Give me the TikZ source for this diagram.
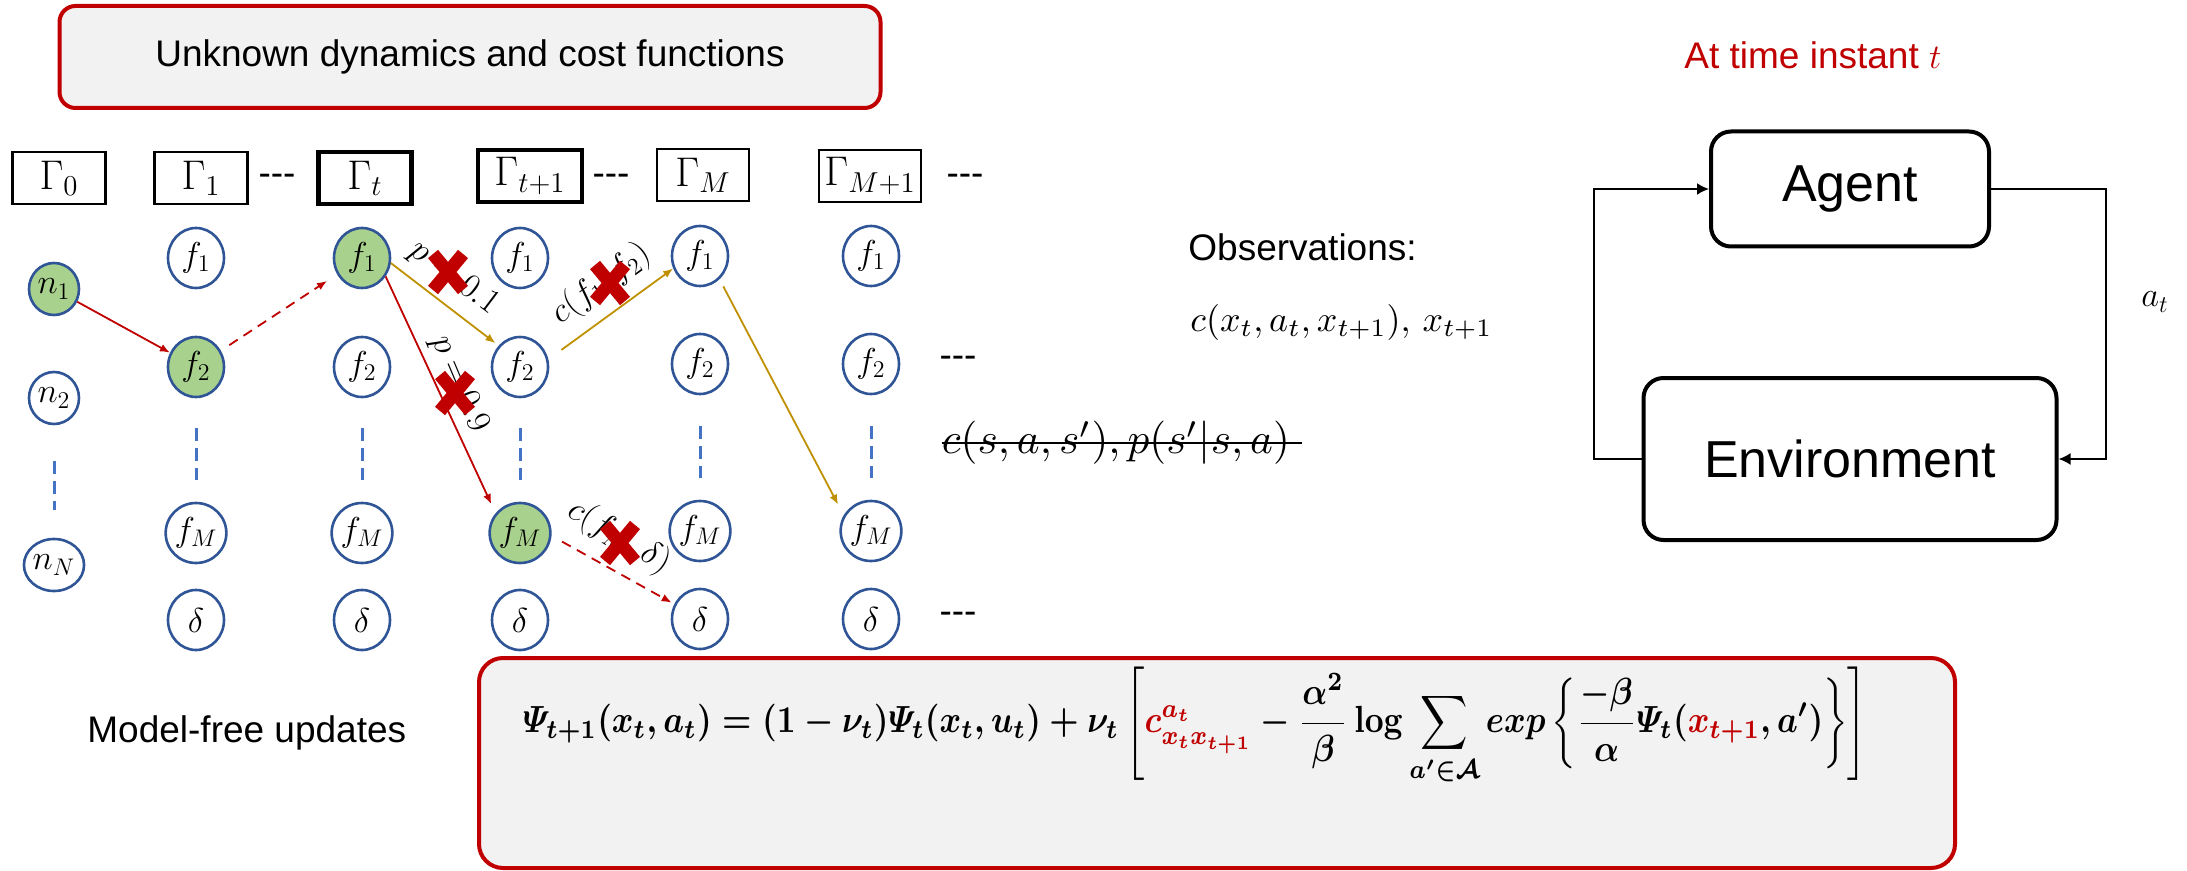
\documentclass[tikz,border=0pt]{standalone}
\usepackage[no-math]{fontspec}
\setmainfont{Liberation Sans}
\usepackage{amsmath,amssymb}
\usepackage{graphicx}
\usetikzlibrary{arrows.meta,calc,shapes.geometric}
\definecolor{cred}{HTML}{C00000}
\definecolor{cgold}{HTML}{BF9000}
\definecolor{cblue}{HTML}{2F5597}
\definecolor{cdash}{HTML}{4472C4}
\definecolor{cgreen}{HTML}{A9D18E}
\definecolor{cgray}{HTML}{F2F2F2}
\newcommand{\RedCross}[1]{\draw[xmk] ($(#1)+(-15,-18)$) -- ($(#1)+(15,18)$) ($(#1)+(15,-18)$) -- ($(#1)+(-15,18)$);}
\newcommand{\QFormula}{$\displaystyle \varPsi_{t+1}(x_t,a_t)=(1-\nu_t)\varPsi_t(x_t,u_t)+\nu_t\left[\textcolor{cred}{c^{a_t}_{x_t x_{t+1}}}-\frac{\alpha^2}{\beta}\log\sum_{a'\in\mathcal{A}} exp\left\{\frac{-\beta}{\alpha}\varPsi_t(\textcolor{cred}{x_{t+1}},a')\right\}\right]$}
\begin{document}
\begin{tikzpicture}[x=0.5pt,y=-0.5pt,
  topbox/.style={draw=cred, line width=2pt, fill=cgray, rounded corners=8pt, minimum width=410.5pt, minimum height=51pt, inner sep=0pt, font=\fontsize{18.5}{22}\selectfont},
  eqbox/.style={draw=cred, line width=2pt, fill=cgray, rounded corners=12pt, minimum width=738pt, minimum height=105pt, inner sep=0pt},
  gbox/.style={draw, line width=1.2pt, minimum width=46.5pt, minimum height=26pt, inner sep=0pt, font=\fontsize{21}{24}\selectfont},
  gboxb/.style={gbox, line width=2.3pt},
  fnode/.style={ellipse, draw=cblue, line width=1.3pt, fill=white, minimum width=28pt, minimum height=30pt, inner sep=0pt, font=\fontsize{17}{20}\selectfont},
  nnode/.style={fnode, minimum width=25pt, minimum height=26pt},
  hit/.style={fill=cgreen},
  vdots/.style={draw=cdash, line width=1.5pt, dash pattern=on 6.5pt off 3.5pt},
  tripledash/.style={inner sep=0pt, font=\fontsize{18.5}{22}\selectfont},
  redarr/.style={draw=cred, line width=0.9pt, -{Latex[length=5pt,width=4pt]}},
  goldarr/.style={draw=cgold, line width=0.9pt, -{Latex[length=5pt,width=4pt]}},
  dashedarr/.style={dash pattern=on 5pt off 3.5pt},
  lab/.style={inner sep=0pt, font=\fontsize{16.5}{18}\selectfont},
  xmk/.style={draw=cred, line width=6.5pt},
  sans/.style={inner sep=0pt, font=\fontsize{18.5}{22}\selectfont},
  bigbox/.style={draw, line width=2pt, rounded corners=10pt, inner sep=0pt, font=\fontsize{26}{30}\selectfont},
  loopline/.style={draw, line width=1pt, -{Latex[length=6pt,width=6pt]}}
]
\useasboundingbox (0,0) rectangle (2187,871);

% top box
\node[topbox] (unk) at (470,57) {Unknown dynamics and cost functions};

% Gamma boxes
\node[gbox] (g0) at (59,178) {$\Gamma_0$};
\node[gbox] (g1) at (201,178) {$\Gamma_1$};
\node[gboxb] (gt) at (365,178) {$\Gamma_t$};
\node[gboxb, minimum width=52pt] (gtp) at (530,176) {$\Gamma_{t+1}$};
\node[gbox, minimum width=46pt] (gM) at (703,175) {$\Gamma_M$};
\node[gbox, minimum width=51pt] (gMp) at (870,176) {$\Gamma_{M+1}$};

% dashes
\node[tripledash] (h1) at (277,180) {{-}{-}{-}};
\node[tripledash] (h2) at (611,180) {{-}{-}{-}};
\node[tripledash] (h3) at (965,180) {{-}{-}{-}};
\node[tripledash] (h4) at (958,362) {{-}{-}{-}};
\node[tripledash] (h5) at (958,618) {{-}{-}{-}};

% n column
\node[nnode, hit] (n1) at (54,289) {$n_1$};
\node[nnode] (n2) at (54,398) {$n_2$};
\node[nnode] (nN) at (54,565) {$n_N$};
\draw[vdots] ($(n2)!0.38!(nN)$) -- ($(n2)!0.67!(nN)$);

% column 1
\node[fnode] (a1) at (196,258) {$f_1$};
\node[fnode, hit] (a2) at (196,367) {$f_2$};
\node[fnode] (aM) at (196,533) {$f_M$};
\node[fnode] (ad) at (196,620) {$\delta$};
% column t
\node[fnode, hit] (b1) at (362,258) {$f_1$};
\node[fnode] (b2) at (362,367) {$f_2$};
\node[fnode] (bM) at (362,533) {$f_M$};
\node[fnode] (bd) at (362,620) {$\delta$};
% column t+1
\node[fnode] (c1) at (520,258) {$f_1$};
\node[fnode] (c2) at (520,367) {$f_2$};
\node[fnode, hit] (cM) at (520,533) {$f_M$};
\node[fnode] (cd) at (520,620) {$\delta$};
% column M
\node[fnode] (d1) at (700,256) {$f_1$};
\node[fnode] (d2) at (700,364) {$f_2$};
\node[fnode] (dM) at (700,531) {$f_M$};
\node[fnode] (dd) at (700,619) {$\delta$};
% column M+1
\node[fnode] (e1) at (871,256) {$f_1$};
\node[fnode] (e2) at (871,364) {$f_2$};
\node[fnode] (eM) at (871,531) {$f_M$};
\node[fnode] (ed) at (871,619) {$\delta$};

\foreach \p/\q in {a2/aM,b2/bM,c2/cM,d2/dM,e2/eM}
  \draw[vdots] ($(\p)!0.37!(\q)$) -- ($(\p)!0.68!(\q)$);

% arrows
\draw[redarr] (n1) -- (a2);
\draw[redarr, dashedarr, shorten <=5pt, shorten >=6pt] (a2) -- (b1);
\draw[goldarr, shorten >=2pt] (b1.-10) -- (c2.135);
\draw[redarr, shorten >=5pt] (b1.-38) -- (cM.141);
\draw[goldarr, shorten <=8pt] (c2.15) -- (d1.205);
\draw[redarr, dashedarr, shorten <=6pt, shorten >=1.5pt] (cM.-5) -- (dd.150);
\draw[goldarr, shorten <=4pt, shorten >=6pt] (d1.-50) -- (eM.150);

% labels
\node[lab, rotate=-37] (l1) at (454,278) {$p=0.1$};
\node[lab, rotate=-67] (l2) at (459,384) {$p=0.9$};
\node[lab, rotate=36] (l3) at (601,284) {$c(f_1,f_2)$};
\node[lab, rotate=-31] (l4) at (619,537) {$c(f_M,\delta)$};
\coordinate (x1) at (448,272);
\coordinate (x2) at (455,393);
\coordinate (x3) at (610,283);
\coordinate (x4) at (620,543);
\RedCross{x1}
\RedCross{x2}
\RedCross{x3}
\RedCross{x4}

% observations
\node[sans, anchor=west] (obs) at (1188,247) {Observations:};
\node[inner sep=0pt, anchor=west] (obsm) at (1190,322) {\resizebox{151pt}{!}{$c(x_t,a_t,x_{t+1}),\,x_{t+1}$}};
\node[inner sep=0pt] (st) at (1116,443) {\resizebox{174pt}{!}{$c(s,a,s'),p(s'|s,a)$}};
\draw[line width=1.3pt] (st.west) -- ([xshift=6pt]st.east);

% agent / environment
\node[sans, text=cred, anchor=west] (tit) at (1684,55) {At time instant $t$};
\node[bigbox, minimum width=139pt, minimum height=57.5pt] (agent) at (1850,189) {Agent};
\node[bigbox, minimum width=206.5pt, minimum height=81pt] (env) at (1850,459) {Environment};
\draw[loopline] (env.west) -- ++(-48,0) |- (agent.west);
\draw[loopline] (agent.east) -- ++(115,0) |- (env.east);
\node[inner sep=0pt, font=\fontsize{18}{22}\selectfont] (at) at (2155,302) {$a_t$};

% model-free updates
\node[sans, anchor=west] (mfu) at (87,733) {Model-free updates};
\node[eqbox] (eqb) at (1217,763) {};
\node[inner sep=0pt, font=\mathversion{bold}] (eq) at (1195,726) {\scalebox{1}[1.15]{\resizebox{672pt}{!}{\QFormula}}};
\end{tikzpicture}
\end{document}
